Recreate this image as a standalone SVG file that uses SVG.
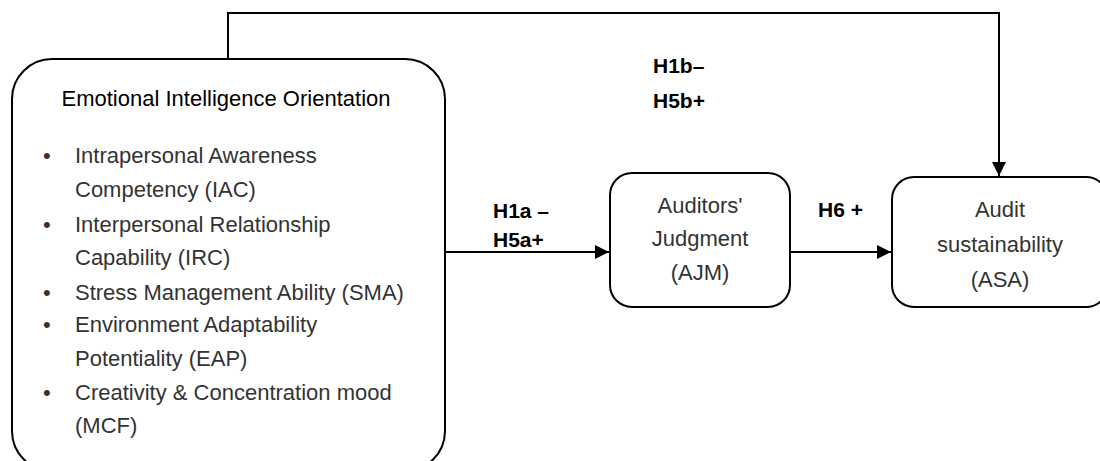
<svg xmlns="http://www.w3.org/2000/svg" width="1100" height="461" viewBox="0 0 1100 461">
  <style>
    .box { fill: #ffffff; stroke: #000000; stroke-width: 2; }
    .conn { fill: none; stroke: #000000; stroke-width: 2; }
    .head { font-family: "Liberation Sans", Arial, sans-serif; font-size: 22px; fill: #000000; }
    .body { font-family: "Liberation Sans", Arial, sans-serif; font-size: 22px; fill: #333333; }
    .lbl { font-family: "Liberation Sans", Arial, sans-serif; font-size: 21px; font-weight: bold; fill: #000000; }
  </style>
  <defs>
    <marker id="arrow" viewBox="0 0 14 14" refX="14" refY="7" markerWidth="14" markerHeight="14" markerUnits="userSpaceOnUse" orient="auto">
      <path d="M0,0 L14,7 L0,14 Z" fill="#000000"/>
    </marker>
  </defs>

  <g id="connectors">
    <path class="conn" d="M228,59 L228,13 L999,13 L999,176" marker-end="url(#arrow)"/>
    <path class="conn" d="M445,252 L609,252" marker-end="url(#arrow)"/>
    <path class="conn" d="M790,252 L891,252" marker-end="url(#arrow)"/>
  </g>

  <g id="node-eio">
    <rect class="box" x="12" y="59" width="433" height="412" rx="40" ry="40"/>
    <text class="head" x="226" y="106" text-anchor="middle">Emotional Intelligence Orientation</text>
    <g class="body">
      <text x="43" y="163">•</text>
      <text x="75" y="163">Intrapersonal Awareness</text>
      <text x="75" y="197">Competency (IAC)</text>
      <text x="43" y="232">•</text>
      <text x="75" y="232">Interpersonal Relationship</text>
      <text x="75" y="265">Capability (IRC)</text>
      <text x="43" y="300">•</text>
      <text x="75" y="300">Stress Management Ability (SMA)</text>
      <text x="43" y="332">•</text>
      <text x="75" y="332">Environment Adaptability</text>
      <text x="75" y="366">Potentiality (EAP)</text>
      <text x="43" y="400">•</text>
      <text x="75" y="400">Creativity &amp; Concentration mood</text>
      <text x="75" y="433">(MCF)</text>
    </g>
  </g>

  <g id="node-ajm">
    <rect class="box" x="610" y="173" width="180" height="134" rx="22" ry="22"/>
    <text class="body" x="700" y="213" text-anchor="middle">Auditors'</text>
    <text class="body" x="700" y="246" text-anchor="middle">Judgment</text>
    <text class="body" x="700" y="280" text-anchor="middle">(AJM)</text>
  </g>

  <g id="node-asa">
    <rect class="box" x="892" y="177" width="216" height="130" rx="22" ry="22"/>
    <text class="body" x="1000" y="217" text-anchor="middle">Audit</text>
    <text class="body" x="1000" y="252" text-anchor="middle">sustainability</text>
    <text class="body" x="1000" y="287" text-anchor="middle">(ASA)</text>
  </g>

  <g id="labels">
    <text class="lbl" x="653" y="73">H1b–</text>
    <text class="lbl" x="653" y="108">H5b+</text>
    <text class="lbl" x="493" y="218">H1a –</text>
    <text class="lbl" x="493" y="247">H5a+</text>
    <text class="lbl" x="818" y="217">H6 +</text>
  </g>
</svg>
